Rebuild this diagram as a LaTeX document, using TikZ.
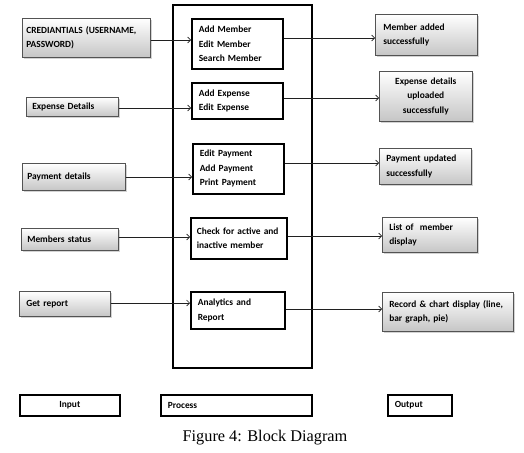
\documentclass[tikz,border=0pt]{standalone}
\usepackage{fontspec}
\setmainfont{Carlito}[WordSpace=0.75]
\newfontfamily\capfont{Liberation Serif}
\usetikzlibrary{shadows,arrows.meta}
\begin{document}
\begin{tikzpicture}[x=1pt,y=-1pt,
  boxfont/.style={font=\bfseries\fontsize{9.4}{14.5}\selectfont},
  inbox/.style={boxfont, draw=gray!65!black, line width=0.6pt, top color=white, bottom color=gray!45,
    drop shadow={shadow xshift=1.2pt, shadow yshift=-1.5pt, opacity=0.35},
    anchor=north west, align=left, inner ysep=0pt},
  procbox/.style={boxfont, draw=black, line width=1.6pt, fill=white, anchor=north west, align=left, inner ysep=0pt},
  bigbox/.style={draw=black, line width=1.8pt, anchor=north west, inner sep=0pt},
  legbox/.style={boxfont, draw=black, line width=1.6pt, anchor=north west, inner ysep=0pt},
  arr/.style={draw=gray!25!black, line width=0.6pt, -{Straight Barb[length=3pt,width=6pt]}}
]
\useasboundingbox (0,0) rectangle (524,452);

% big process frame
\node[bigbox, minimum width=139pt, minimum height=363pt] (proc) at (172,4) {};

% inputs
\node[inbox, inner xsep=4pt, text width=120pt, minimum height=39pt] (i1) at (22,18) {CREDIANTIALS (USERNAME,\\PASSWORD)};
\node[inbox, inner xsep=6pt, text width=80pt, minimum height=19pt] (i2) at (26,97) {Expense Details};
\node[inbox, inner xsep=5pt, text width=93pt, minimum height=27pt] (i3) at (22,163) {Payment details};
\node[inbox, inner xsep=6pt, text width=85pt, minimum height=22pt] (i4) at (21,228) {Members status};
\node[inbox, inner xsep=7pt, text width=77pt, minimum height=25pt] (i5) at (19,291) {Get report};

% processes
\node[procbox, inner xsep=7pt, text width=77pt, minimum height=50pt] (p1) at (191,18) {Add Member\\Edit Member\\Search Member};
\node[procbox, inner xsep=7pt, text width=77pt, minimum height=36pt] (p2) at (191,82) {Add Expense\\Edit Expense};
\node[procbox, inner xsep=7pt, text width=77pt, minimum height=50pt] (p3) at (192,143) {Edit Payment\\Add Payment\\Print Payment};
\node[procbox, inner xsep=6pt, text width=84pt, minimum height=41pt] (p4) at (190,217) {Check for active and\\inactive member};
\node[procbox, inner xsep=7pt, text width=80pt, minimum height=37pt] (p5) at (190,291) {Analytics and\\Report};

% outputs
\node[inbox, inner xsep=8pt, text width=86pt, minimum height=41pt] (o1) at (375,14) {Member added\\successfully};
\node[inbox, inner xsep=6pt, text width=81pt, minimum height=50pt, align=center] (o2) at (379,71) {Expense details\\uploaded\\successfully};
\node[inbox, inner xsep=7pt, text width=78pt, minimum height=36pt] (o3) at (379,148) {Payment updated\\successfully};
\node[inbox, inner xsep=7pt, text width=81pt, minimum height=35pt] (o4) at (382,217) {List of\ \ member\\display};
\node[inbox, inner xsep=7pt, text width=117pt, minimum height=39pt] (o5) at (382,292) {Record \& chart display (line,\\bar graph, pie)};

% arrow levels
\coordinate (a1) at (0,40);  \coordinate (b1) at (0,38);
\coordinate (a2) at (0,108); \coordinate (b2) at (0,98);
\coordinate (a3) at (0,177); \coordinate (b3) at (0,163);
\coordinate (a4) at (0,237); \coordinate (b4) at (0,236);
\coordinate (a5) at (0,303); \coordinate (b5) at (0,309);

\foreach \k in {1,...,5}{
  \draw[arr] (i\k.east |- a\k) -- (p\k.west |- a\k);
  \draw[arr] (p\k.east |- b\k) -- (o\k.west |- b\k);
}

% legend
\node[legbox, inner xsep=0pt, minimum width=100pt, minimum height=21pt] (l1) at (19,394) {Input};
\node[legbox, inner xsep=7pt, text width=137pt, align=left, minimum height=21pt] (l2) at (160,394) {Process};
\node[legbox, inner xsep=7pt, text width=50pt, align=left, minimum height=21pt] (l3) at (387,394) {Output};

% caption
\node[font=\capfont\fontsize{16.3}{19}\selectfont] (cap) at (265,438) {Figure 4: Block Diagram};
\end{tikzpicture}
\end{document}
